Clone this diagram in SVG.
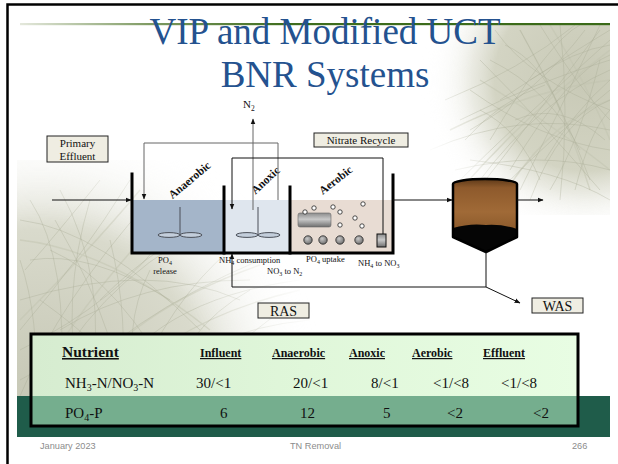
<svg xmlns="http://www.w3.org/2000/svg" width="618" height="464" viewBox="0 0 618 464">
  <defs>
    <style>
      .serif { font-family: "Liberation Serif", "Times New Roman", serif; fill: #111; }
      .title { font-family: "Liberation Serif", "Times New Roman", serif; font-size: 37px; fill: #24528f; text-anchor: middle; }
      .small { font-size: 8.5px; }
      .lbl { font-size: 11px; }
      .tank { font-size: 11.5px; font-weight: bold; text-anchor: middle; }
      .hdr { font-size: 12px; font-weight: bold; text-decoration: underline; }
      .row { font-size: 15px; }
      .foot { font-family: "Liberation Sans", Arial, sans-serif; font-size: 9.2px; fill: #8c8c8c; }
      .box { fill: #efede2; stroke: #222; stroke-width: 1; }
      .wall { fill: none; stroke: #000; stroke-width: 3; stroke-linecap: square; }
      .pipe { fill: none; stroke: #111; stroke-width: 1; }
      .pipe-g { fill: none; stroke: #666; stroke-width: 1; }
      .blade { fill: #c3cedb; stroke: #4a4f58; stroke-width: 1; }
      .bub { fill: #fff; stroke: #222; stroke-width: 0.8; }
      .grass { fill: none; stroke: #a9ab94; stroke-width: 0.8; stroke-opacity: 0.45; }
      .grass2 { fill: none; stroke: #c2c4b0; stroke-width: 1.4; stroke-opacity: 0.5; }
    </style>
    <marker id="ah" viewBox="0 0 10 10" refX="9" refY="5" markerWidth="6" markerHeight="6" markerUnits="userSpaceOnUse" orient="auto">
      <path d="M0,1 L10,5 L0,9 z" fill="#111"/>
    </marker>
    <linearGradient id="rule" x1="0" y1="0" x2="1" y2="0">
      <stop offset="0" stop-color="#e4e8dc"/>
      <stop offset="0.22" stop-color="#7e9a62"/>
      <stop offset="0.45" stop-color="#3f6d1e"/>
      <stop offset="1" stop-color="#3a6a18"/>
    </linearGradient>
    <radialGradient id="tintTR" cx="585" cy="80" r="165" gradientUnits="userSpaceOnUse">
      <stop offset="0" stop-color="#c8c9b6"/>
      <stop offset="0.55" stop-color="#d3d4c3"/>
      <stop offset="1" stop-color="#ffffff" stop-opacity="0"/>
    </radialGradient>
    <radialGradient id="tintBL" cx="40" cy="395" r="300" gradientUnits="userSpaceOnUse">
      <stop offset="0" stop-color="#c6c7b5"/>
      <stop offset="0.55" stop-color="#d9dacc"/>
      <stop offset="1" stop-color="#ffffff" stop-opacity="0"/>
    </radialGradient>
    <radialGradient id="fadeTR" cx="585" cy="80" r="175" gradientUnits="userSpaceOnUse">
      <stop offset="0" stop-color="#fff"/>
      <stop offset="0.65" stop-color="#fff"/>
      <stop offset="1" stop-color="#000"/>
    </radialGradient>
    <radialGradient id="fadeBL" cx="40" cy="395" r="290" gradientUnits="userSpaceOnUse">
      <stop offset="0" stop-color="#fff"/>
      <stop offset="0.6" stop-color="#fff"/>
      <stop offset="1" stop-color="#000"/>
    </radialGradient>
    <mask id="mTR" maskUnits="userSpaceOnUse" x="0" y="0" width="618" height="464">
      <rect x="420" y="25" width="190" height="190" fill="url(#fadeTR)"/>
    </mask>
    <mask id="mBL" maskUnits="userSpaceOnUse" x="0" y="0" width="618" height="464">
      <rect x="17" y="160" width="330" height="236" fill="url(#fadeBL)"/>
    </mask>
    <linearGradient id="tableTop" x1="0" y1="0" x2="1" y2="0">
      <stop offset="0" stop-color="#d6ecd0"/>
      <stop offset="0.5" stop-color="#e0f7da"/>
      <stop offset="1" stop-color="#e8fde3"/>
    </linearGradient>
    <linearGradient id="clar" x1="0" y1="0" x2="0" y2="1">
      <stop offset="0" stop-color="#5e3a19"/>
      <stop offset="0.12" stop-color="#8e5a2c"/>
      <stop offset="0.45" stop-color="#a06a37"/>
      <stop offset="0.8" stop-color="#845427"/>
      <stop offset="1" stop-color="#3e2610"/>
    </linearGradient>
    <linearGradient id="metal" x1="0" y1="0" x2="0" y2="1">
      <stop offset="0" stop-color="#8c8c8c"/>
      <stop offset="0.45" stop-color="#c9c9c9"/>
      <stop offset="1" stop-color="#6e6e6e"/>
    </linearGradient>
    <radialGradient id="ball" cx="0.4" cy="0.35" r="0.7">
      <stop offset="0" stop-color="#c8c8c8"/>
      <stop offset="1" stop-color="#6a6a6a"/>
    </radialGradient>
  </defs>

  <!-- slide background -->
  <rect x="0" y="0" width="618" height="464" fill="#fff"/>

  <!-- grass texture, upper right -->
  <g id="grass-top" mask="url(#mTR)">
    <rect x="420" y="25" width="190" height="190" fill="url(#tintTR)"/>
    <path class="grass2" d="M460,190 Q530,110 610,50 M500,200 Q550,120 610,100 M450,130 Q530,90 610,80 M520,30 Q565,110 590,190 M480,80 Q560,130 610,170 M550,25 Q590,90 610,140"/>
    <path class="grass" d="M450,190 Q520,120 610,40 M470,200 Q540,110 600,30 M500,190 Q560,130 610,90 M430,150 Q520,110 610,130 M460,120 Q540,80 610,60 M480,60 Q540,120 600,190 M520,30 Q560,100 590,180 M540,25 Q580,90 610,120 M500,100 Q560,60 610,30 M455,170 Q540,150 610,170 M560,25 Q570,110 560,200 M490,140 Q550,40 580,25 M470,90 Q540,140 610,150 M600,25 Q560,110 520,190 M585,30 Q540,90 470,130 M610,70 Q540,100 480,180 M530,200 Q560,120 610,100 M495,30 Q530,80 610,110 M445,100 Q520,70 575,25 M510,170 Q570,70 610,55 M470,160 Q560,170 610,200 M550,190 Q580,140 600,60 M490,60 Q550,90 580,150 M515,120 Q560,100 605,140 M530,80 Q575,50 610,45 M545,160 Q575,110 610,80 M465,140 Q500,100 545,85 M575,190 Q590,130 610,110 M505,45 Q540,60 560,110 M480,110 Q520,130 540,180"/>
  </g>

  <!-- grass texture, lower left -->
  <g id="grass-bottom" mask="url(#mBL)">
    <rect x="17" y="160" width="330" height="236" fill="url(#tintBL)"/>
    <path class="grass2" d="M30,396 Q80,300 170,210 M70,396 Q130,310 260,265 M20,320 Q90,250 140,190 M110,396 Q170,320 300,290 M20,240 Q110,250 210,330"/>
    <path class="grass" d="M20,396 Q60,300 150,200 M40,396 Q90,290 200,230 M60,396 Q120,320 260,260 M20,330 Q80,260 130,180 M100,396 Q150,300 300,280 M30,260 Q90,250 170,300 M20,220 Q100,230 200,330 M120,396 Q130,320 110,240 M150,396 Q200,330 310,320 M80,396 Q60,300 90,200 M20,300 Q150,260 240,300 M200,396 Q230,340 300,300 M20,380 Q100,330 220,350 M50,250 Q120,280 180,396 M30,200 Q70,260 60,396 M90,396 Q110,280 60,190 M130,396 Q170,300 230,250 M20,350 Q120,300 170,230 M170,396 Q180,330 250,290 M40,300 Q110,350 140,396 M25,270 Q60,230 100,180 M60,330 Q140,280 250,280 M140,396 Q120,330 150,270 M35,396 Q40,320 20,260 M75,340 Q150,330 230,396 M100,300 Q160,240 220,220 M55,220 Q90,280 110,340 M160,396 Q240,350 320,350"/>
  </g>

  <!-- slide frame and title rule -->
  <path d="M7.5,464 V4.5 H618" fill="none" stroke="#000" stroke-width="2.5"/>
  <rect x="20" y="23" width="590" height="2.2" fill="url(#rule)"/>

  <!-- title -->
  <text class="title" x="325" y="44">VIP and Modified UCT</text>
  <text class="title" x="325" y="87">BNR Systems</text>

  <!-- reactor basins -->
  <g id="anaerobic-zone">
    <rect x="133" y="200" width="91" height="53" fill="#a4b5c9"/>
    <line x1="180" y1="207" x2="180" y2="234" stroke="#4a4f58" stroke-width="1"/>
    <ellipse class="blade" cx="169" cy="235" rx="11" ry="2.4"/>
    <ellipse class="blade" cx="191" cy="235" rx="11" ry="2.4"/>
    <text class="serif tank" x="192" y="183" transform="rotate(-40 192 183)">Anaerobic</text>
    <text class="serif small" x="165" y="263" text-anchor="middle">PO<tspan font-size="6" dy="2">4</tspan></text>
    <text class="serif small" x="165" y="274" text-anchor="middle">release</text>
  </g>

  <g id="anoxic-zone">
    <rect x="224" y="200" width="66" height="53" fill="#dfe6ee"/>
    <line x1="258" y1="207" x2="258" y2="234" stroke="#4a4f58" stroke-width="1"/>
    <ellipse class="blade" cx="247" cy="235" rx="11" ry="2.4"/>
    <ellipse class="blade" cx="269" cy="235" rx="11" ry="2.4"/>
    <text class="serif tank" x="268" y="183" transform="rotate(-43 268 183)">Anoxic</text>
    <text class="serif small" x="219" y="263">NH<tspan font-size="6" dy="2">4</tspan><tspan dy="-2"> consumption</tspan></text>
    <text class="serif small" x="267" y="274">NO<tspan font-size="6" dy="2">3</tspan><tspan dy="-2"> to N</tspan><tspan font-size="6" dy="2">2</tspan></text>
  </g>

  <g id="aerobic-zone">
    <rect x="290" y="200" width="103" height="53" fill="#e8dcd3"/>
    <rect x="298" y="213" width="33" height="14" rx="2" fill="url(#metal)" stroke="#666" stroke-width="0.6"/>
    <circle cx="308" cy="240" r="4.2" fill="url(#ball)" stroke="#222" stroke-width="0.8"/>
    <circle cx="323" cy="240" r="4.2" fill="url(#ball)" stroke="#222" stroke-width="0.8"/>
    <circle cx="340" cy="240" r="4.2" fill="url(#ball)" stroke="#222" stroke-width="0.8"/>
    <circle cx="359" cy="240" r="4.2" fill="url(#ball)" stroke="#222" stroke-width="0.8"/>
    <circle class="bub" cx="305" cy="212" r="2.2"/>
    <circle class="bub" cx="314" cy="208" r="2.2"/>
    <circle class="bub" cx="333" cy="207" r="2.2"/>
    <circle class="bub" cx="340" cy="212" r="2.2"/>
    <circle class="bub" cx="363" cy="204" r="2.2"/>
    <circle class="bub" cx="355" cy="218" r="2.2"/>
    <circle class="bub" cx="340" cy="225" r="2.2"/>
    <circle class="bub" cx="362" cy="226" r="2.2"/>
    <rect x="377" y="234" width="9" height="13" fill="url(#metal)" stroke="#111" stroke-width="1"/>
    <text class="serif tank" x="338" y="183" transform="rotate(-38 338 183)">Aerobic</text>
    <text class="serif small" x="306" y="262">PO<tspan font-size="6" dy="2">4</tspan><tspan dy="-2"> uptake</tspan></text>
    <text class="serif small" x="358" y="266">NH<tspan font-size="6" dy="2">4</tspan><tspan dy="-2">  to NO</tspan><tspan font-size="6" dy="2">3</tspan></text>
  </g>

  <g id="basin-walls">
    <path class="wall" d="M132,174 V253 H393 V175"/>
    <line class="wall" x1="224" y1="187" x2="224" y2="253"/>
    <line class="wall" x1="290" y1="187" x2="290" y2="253"/>
  </g>

  <!-- secondary clarifier -->
  <g id="clarifier">
    <path d="M453,184 A32,5 0 0 1 517,184 V237 L486,252 L453,237 Z" fill="url(#clar)"/>
    <path d="M453,228 Q470,223 486,225 Q503,224 517,229 V237 L486,252 L453,237 Z" fill="#050505"/>
    <path d="M453,184 A32,5 0 0 1 517,184 V237 L486,252 L453,237 Z" fill="none" stroke="#000" stroke-width="2.5" stroke-linejoin="round"/>
  </g>

  <!-- flow lines -->
  <g id="connectors">
    <line class="pipe" x1="52" y1="200" x2="131" y2="200" marker-end="url(#ah)"/>
    <path class="pipe-g" d="M278,200 V143 H144 V199" marker-end="url(#ah)"/>
    <line class="pipe-g" x1="253" y1="210" x2="253" y2="119" marker-end="url(#ah)"/>
    <path class="pipe" d="M383,234 V158 H232 V209" marker-end="url(#ah)"/>
    <line class="pipe" x1="393" y1="200" x2="452" y2="200" marker-end="url(#ah)"/>
    <line class="pipe" x1="517" y1="200" x2="543" y2="200" marker-end="url(#ah)"/>
    <path class="pipe" d="M486,252 V287 H232 V254" marker-end="url(#ah)"/>
    <line class="pipe" x1="486" y1="287" x2="520" y2="303" marker-end="url(#ah)"/>
  </g>

  <!-- stream labels -->
  <g id="n2-label">
    <text class="serif lbl" x="243" y="108">N<tspan font-size="7.5" dy="2.5">2</tspan></text>
  </g>
  <g id="primary-effluent">
    <rect class="box" x="47" y="136" width="61" height="26"/>
    <text class="serif lbl" x="77.5" y="147" text-anchor="middle">Primary</text>
    <text class="serif lbl" x="77.5" y="160" text-anchor="middle">Effluent</text>
  </g>
  <g id="nitrate-recycle">
    <rect class="box" x="314" y="133" width="94" height="14"/>
    <text class="serif lbl" x="361" y="144" text-anchor="middle">Nitrate Recycle</text>
  </g>
  <g id="ras">
    <rect class="box" x="258" y="303" width="51" height="15"/>
    <text class="serif" x="283.5" y="316" font-size="14" text-anchor="middle">RAS</text>
  </g>
  <g id="was">
    <rect class="box" x="532" y="298" width="51" height="15"/>
    <text class="serif" x="557.5" y="311" font-size="14" text-anchor="middle">WAS</text>
  </g>

  <!-- footer band -->
  <rect x="17" y="396" width="593" height="41" fill="#1f5c4a"/>

  <!-- nutrient table -->
  <g id="nutrient-table">
    <rect x="31" y="334" width="547" height="62" fill="url(#tableTop)"/>
    <rect x="31" y="396" width="547" height="30" fill="#75ae8e"/>
    <rect x="31" y="334" width="547" height="92" fill="none" stroke="#000" stroke-width="3"/>
    <text class="serif" x="62" y="357" font-size="15.5" font-weight="bold" text-decoration="underline">Nutrient</text>
    <text class="serif hdr" x="200" y="357">Influent</text>
    <text class="serif hdr" x="272" y="357">Anaerobic</text>
    <text class="serif hdr" x="349" y="357">Anoxic</text>
    <text class="serif hdr" x="412" y="357">Aerobic</text>
    <text class="serif hdr" x="483" y="357">Effluent</text>
    <text class="serif row" x="65" y="388">NH<tspan font-size="10" dy="3">3</tspan><tspan dy="-3">-N/NO</tspan><tspan font-size="10" dy="3">3</tspan><tspan dy="-3">-N</tspan></text>
    <text class="serif row" x="196" y="388">30/&lt;1</text>
    <text class="serif row" x="293" y="388">20/&lt;1</text>
    <text class="serif row" x="371" y="388">8/&lt;1</text>
    <text class="serif row" x="433" y="388">&lt;1/&lt;8</text>
    <text class="serif row" x="501" y="388">&lt;1/&lt;8</text>
    <text class="serif row" x="65" y="418">PO<tspan font-size="10" dy="3">4</tspan><tspan dy="-3">-P</tspan></text>
    <text class="serif row" x="220" y="418">6</text>
    <text class="serif row" x="300" y="418">12</text>
    <text class="serif row" x="383" y="418">5</text>
    <text class="serif row" x="447" y="418">&lt;2</text>
    <text class="serif row" x="533" y="418">&lt;2</text>
  </g>

  <!-- footer -->
  <text class="foot" x="40" y="449">January 2023</text>
  <text class="foot" x="290" y="449">TN Removal</text>
  <text class="foot" x="572" y="449">266</text>
</svg>
